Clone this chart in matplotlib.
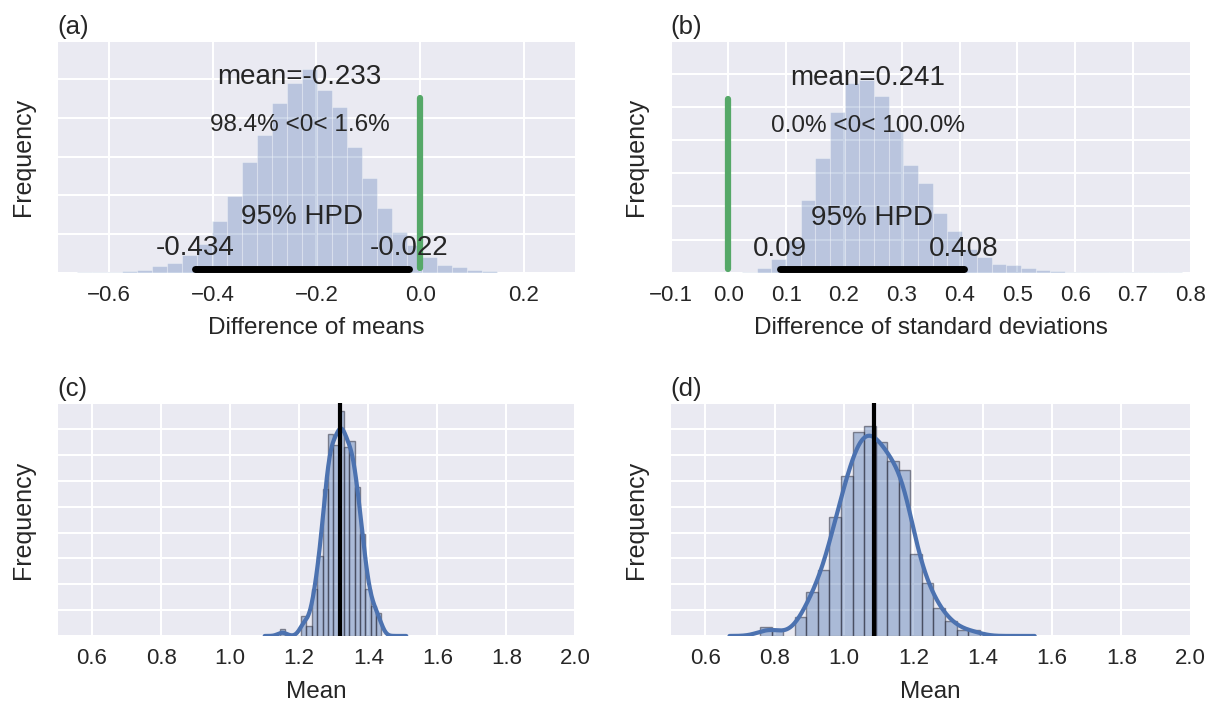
import numpy as np
import matplotlib
matplotlib.use('Agg')
import matplotlib.pyplot as plt
import seaborn as sns

# (a) diferencia de medias - histograma (conteos)
a_left = -0.663
a_width = 0.029
a_counts = [2, 1, 3, 4, 7, 17, 26, 45, 75, 134, 198, 287, 356, 438, 491, 526,
            471, 429, 324, 244, 168, 106, 72, 41, 19, 15, 6, 4]
a_mean = -0.233
a_hpd = [-0.434, -0.022]
a_pct = [98.4, 1.6]
a_ref_top = 451

# (b) diferencia de desviaciones estandar
b_left = 0.0235
b_width = 0.0254
b_counts = [2, 15, 40, 100, 218, 345, 485, 572, 580, 532, 430, 325, 270, 180, 125,
            73, 47, 25, 22, 15, 7, 4, 3, 3, 2, 1, 2, 1, 1, 1]
b_mean = 0.241
b_hpd = [0.09, 0.408]
b_pct = [0.0, 100.0]
b_ref_top = 523

# (c) y (d) medias (densidad)
c_left = 1.1435
c_width = 0.0155
c_dens = [0.26, 0, 0, 0, 0.78, 0.40, 1.82, 3.1, 5.7, 7.8, 7.4, 8.7, 7.3, 7.55,
          5.75, 3.95, 1.82, 1.15, 0.9]
c_mean = 1.319

d_left = 0.7585
d_width = 0.0333
d_dens = [0.18, 0.115, 0, 0.36, 0.845, 1.275, 2.305, 3.095, 3.95, 4.065, 3.75,
          3.39, 3.21, 1.585, 1.03, 0.535, 0.295, 0.115, 0.115]
d_mean = 1.086

blue = '#4C72B0'
green = '#55A868'

sns.set_style('darkgrid')
plt.rcParams['font.family'] = ['Liberation Sans', 'DejaVu Sans']
plt.rcParams['grid.linewidth'] = 1.5
plt.rcParams['axes.unicode_minus'] = True

fig = plt.figure(figsize=(12.11, 7.06), dpi=100)
ax_a = fig.add_axes([0.0475, 0.6137, 0.4277, 0.3289])
ax_b = fig.add_axes([0.5537, 0.6137, 0.4296, 0.3289])
ax_c = fig.add_axes([0.0475, 0.0992, 0.4277, 0.3296])
ax_d = fig.add_axes([0.5537, 0.0992, 0.4296, 0.3296])


def post_panel(ax, left, width, counts, mean, hpd, pct, ref_top, ys):
    edges = left + width * np.arange(len(counts))
    ax.bar(edges, counts, width=width, align='edge', color=blue, alpha=0.3,
           edgecolor=(1, 1, 1, 0.6), linewidth=0.8)
    ax.plot([0, 0], [12, ref_top], color=green, lw=4.5, solid_capstyle='round')
    ax.plot(hpd, [10, 10], color='black', lw=5, solid_capstyle='round')
    ax.text(mean, ys[0], 'mean=' + str(round(mean, 3)), ha='center', va='center', fontsize=20)
    ax.text(mean, ys[1], '%.1f%% <0< %.1f%%' % (pct[0], pct[1]), ha='center', va='center', fontsize=17.5)
    ax.text(np.mean(hpd), ys[2], '95% HPD', ha='center', va='center', fontsize=20)
    for v in hpd:
        ax.text(v, ys[3], str(round(v, 3)), ha='center', va='center', fontsize=20)
    ax.tick_params(axis='x', length=4, width=1, color='#444444', pad=5, labelsize=16)


def mean_panel(ax, left, width, dens, mean, bw, lo, hi):
    dens = np.array(dens)
    edges = left + width * np.arange(len(dens))
    ax.bar(edges, dens, width=width, align='edge', facecolor=(0.298, 0.447, 0.69, 0.4),
           edgecolor=(0.15, 0.15, 0.2, 0.5), linewidth=1)
    # suavizado (kde) a partir del histograma
    centers = edges + width / 2
    w = dens * width
    x = np.linspace(lo, hi, 400)
    y = (w[:, None] * np.exp(-0.5 * ((x[None, :] - centers[:, None]) / bw) ** 2)).sum(0)
    y = y / (bw * np.sqrt(2 * np.pi)) / w.sum()
    ax.plot(x, y, color=blue, lw=3)
    ax.axvline(mean, color='black', lw=3)
    ax.set_xlim(0.5, 2.0)
    ax.set_xticks(np.arange(0.6, 2.01, 0.2))
    ax.set_xlabel('Mean', fontsize=17.5, labelpad=8)
    ax.tick_params(axis='x', length=4, color=(0, 0, 0, 0), pad=5, labelsize=16)


post_panel(ax_a, a_left, a_width, a_counts, a_mean, a_hpd, a_pct, a_ref_top, [506, 382, 145, 63])
ax_a.set_xlim(-0.7, 0.3)
ax_a.set_ylim(0, 600)
ax_a.set_yticks(np.arange(0, 601, 100))
ax_a.set_xticks([-0.6, -0.4, -0.2, 0.0, 0.2])
ax_a.set_xlabel('Difference of means', fontsize=17.5, labelpad=8)

post_panel(ax_b, b_left, b_width, b_counts, b_mean, b_hpd, b_pct, b_ref_top, [586, 441, 166, 72])
ax_b.set_xlim(-0.1, 0.8)
ax_b.set_ylim(0, 700)
ax_b.set_yticks(np.arange(0, 701, 100))
ax_b.set_xticks(np.arange(-0.1, 0.81, 0.1))
ax_b.set_xlabel('Difference of standard deviations', fontsize=17.5, labelpad=8)

mean_panel(ax_c, c_left, c_width, c_dens, c_mean, 0.013, 1.10, 1.51)
ax_c.set_ylim(0, 9)
ax_c.set_yticks(np.arange(0, 9.1, 1))

mean_panel(ax_d, d_left, d_width, d_dens, d_mean, 0.03, 0.67, 1.55)
ax_d.set_ylim(0, 4.5)
ax_d.set_yticks(np.arange(0, 4.51, 0.5))

for ax, lab in zip([ax_a, ax_b, ax_c, ax_d], ['(a)', '(b)', '(c)', '(d)']):
    ax.set_yticklabels([])
    ax.tick_params(axis='y', length=0)
    ax.set_ylabel('Frequency', fontsize=18, labelpad=13)
    ax.set_title(lab, loc='left', fontsize=18.5, pad=5)
    for s in ax.spines.values():
        s.set_visible(False)

fig.savefig('out.png', dpi=100)
